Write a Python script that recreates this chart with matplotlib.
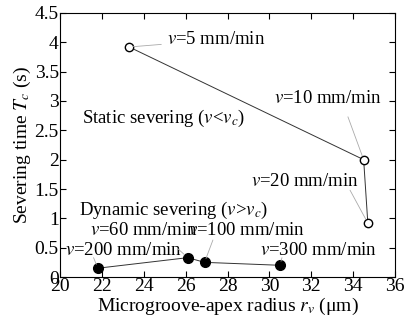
import matplotlib.pyplot as plt

plt.rcParams['font.family'] = ['Liberation Serif', 'DejaVu Serif']
plt.rcParams['mathtext.fontset'] = 'stix'

# static severing (v < vc)
r_static = [23.3, 34.5, 34.7]
t_static = [3.92, 2.0, 0.92]
lab_static = ["$v$=5 mm/min", "$v$=10 mm/min", "$v$=20 mm/min"]

# dynamic severing (v > vc)
r_dyn = [21.8, 26.1, 26.9, 30.5]
t_dyn = [0.15, 0.33, 0.25, 0.20]
lab_dyn = ["$v$=200 mm/min", "$v$=60 mm/min", "$v$=100 mm/min", "$v$=300 mm/min"]

fig = plt.figure(figsize=(4.06, 3.24), dpi=100)
ax = fig.add_axes([0.148, 0.145, 0.825, 0.815])

ax.plot(r_static, t_static, '-', color='#333333', lw=0.7,
        marker='o', ms=6, mfc='white', mec='black', mew=1.0)
ax.plot(r_dyn, t_dyn, '-', color='#333333', lw=0.7,
        marker='o', ms=7, mfc='black', mec='black')

fs = 13.5
lead = dict(arrowstyle='-', color='#aaaaaa', lw=0.6, shrinkA=0, shrinkB=3)

# label positions (text), leader start
ax.annotate(lab_static[0], xy=(r_static[0], t_static[0]), xytext=(25.1, 4.04),
            fontsize=fs, va='center', ha='left',
            arrowprops=dict(lead, shrinkA=2))
ax.annotate(lab_static[1], xy=(r_static[1], t_static[1]), xytext=(30.2, 3.05),
            fontsize=fs, va='center', ha='left')
ax.annotate("", xy=(r_static[1], t_static[1]), xytext=(33.75, 2.73), arrowprops=lead)
ax.annotate(lab_static[2], xy=(r_static[2], t_static[2]), xytext=(29.1, 1.62),
            fontsize=fs, va='center', ha='left')
ax.annotate("", xy=(r_static[2], t_static[2]), xytext=(33.85, 1.48), arrowprops=lead)

ax.annotate(lab_dyn[0], xy=(r_dyn[0], t_dyn[0]), xytext=(20.25, 0.46),
            fontsize=fs, va='center', ha='left')
ax.annotate("", xy=(r_dyn[0], t_dyn[0]), xytext=(21.6, 0.33), arrowprops=lead)
ax.annotate(lab_dyn[1], xy=(r_dyn[1], t_dyn[1]), xytext=(21.45, 0.80),
            fontsize=fs, va='center', ha='left')
ax.annotate("", xy=(r_dyn[1], t_dyn[1]), xytext=(25.6, 0.49), arrowprops=lead)
ax.annotate(lab_dyn[2], xy=(r_dyn[2], t_dyn[2]), xytext=(26.1, 0.80),
            fontsize=fs, va='center', ha='left')
ax.annotate("", xy=(r_dyn[2], t_dyn[2]), xytext=(27.3, 0.63), arrowprops=lead)
ax.annotate(lab_dyn[3], xy=(r_dyn[3], t_dyn[3]), xytext=(29.55, 0.46),
            fontsize=fs, va='center', ha='left')
ax.annotate("", xy=(r_dyn[3], t_dyn[3]), xytext=(30.6, 0.33), arrowprops=lead)

ax.text(21.05, 2.71, "Static severing ($v$<$v_c$)", fontsize=fs, va='center', ha='left')
ax.text(20.9, 1.14, "Dynamic severing ($v$>$v_c$)", fontsize=fs, va='center', ha='left')

ax.set_xlim(20, 36)
ax.set_ylim(0, 4.5)
ax.set_xticks(range(20, 37, 2))
ax.set_yticks([0, 0.5, 1, 1.5, 2, 2.5, 3, 3.5, 4, 4.5])
ax.set_yticklabels(['0', '0.5', '1', '1.5', '2', '2.5', '3', '3.5', '4', '4.5'])
ax.tick_params(direction='in', top=True, right=True, labelsize=14, length=4, pad=1)
ax.set_xlabel("Microgroove-apex radius $r_v$ (μm)", fontsize=14, labelpad=0)
ax.set_ylabel("Severing time $T_c$ (s)", fontsize=14, labelpad=1)

fig.savefig("out.png", dpi=100)
